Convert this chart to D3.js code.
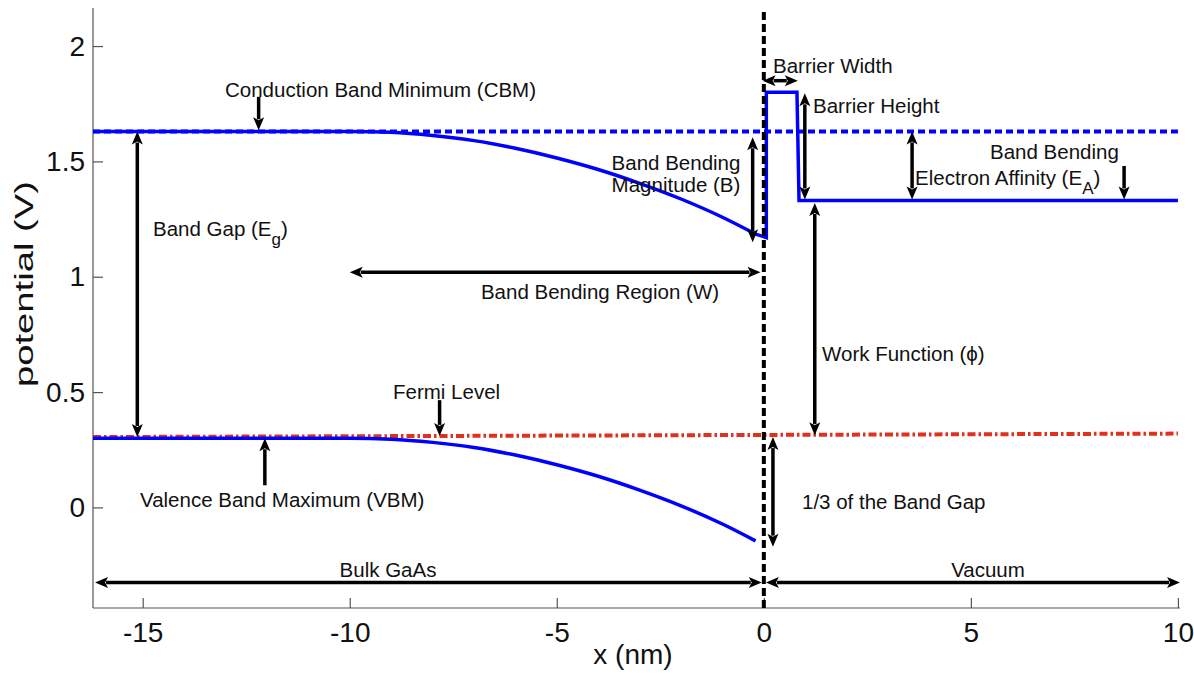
<!DOCTYPE html>
<html>
<head>
<meta charset="utf-8">
<script src="https://cdn.jsdelivr.net/npm/d3@7"></script>
<style>
  html, body { margin: 0; padding: 0; background: #fff; }
  svg { display: block; font-family: "Liberation Sans", Arial, sans-serif; }
</style>
</head>
<body>
<svg id="chart" width="1194" height="676"></svg>
<script>
// Band diagram of a GaAs surface: bulk bands bend toward the surface, then vacuum barrier.
const xTicks = [-15, -10, -5, 0, 5, 10];
const xTickLabels = ["-15", "-10", "-5", "0", "5", "10"];
const yTicks = [0, 0.5, 1, 1.5, 2];
const yTickLabels = ["0", "0.5", "1", "1.5", "2"];

// conduction band minimum (solid, bending near the surface)
const cbmX = [-16.2, -10, -9, -8, -7, -6, -5, -4, -3, -2, -1, -0.2];
const cbmY = [1.63, 1.63, 1.626, 1.612, 1.59, 1.557, 1.515, 1.465, 1.405, 1.337, 1.258, 1.185];
// valence band maximum
const vbmX = [-16.2, -10, -9, -8, -7, -6, -5, -4, -3, -2, -1, -0.2];
const vbmY = [0.30, 0.30, 0.296, 0.282, 0.26, 0.227, 0.185, 0.135, 0.075, 0.007, -0.072, -0.145];
// surface barrier and vacuum level
const barrierX = [-0.2, 0.06, 0.06, 0.8, 0.85, 10];
const barrierY = [1.185, 1.17, 1.80, 1.80, 1.33, 1.33];
// flat-band CBM reference (dashed) and Fermi level (dash-dot)
const cbmRefX = [-16.2, 10];
const cbmRefY = [1.63, 1.63];
const fermiX = [-16.2, 10];
const fermiY = [0.305, 0.32];

// annotation arrows: [x1, y1, x2, y2, heads] ; heads: "end" or "both"
const arrowLines = [
  [-12.2, 1.78, -12.2, 1.635, "end"],      // CBM pointer
  [-15.13, 1.63, -15.13, 0.305, "both"],   // band gap
  [-10.0, 1.02, -0.08, 1.02, "both"],      // band bending region
  [-0.27, 1.605, -0.27, 1.15, "both"],     // band bending magnitude
  [-0.03, 1.85, 0.82, 1.85, "both"],       // barrier width
  [0.99, 1.795, 0.99, 1.335, "both"],      // barrier height
  [3.58, 1.63, 3.58, 1.335, "both"],       // electron affinity
  [8.7, 1.48, 8.7, 1.335, "end"],          // band bending (vacuum side)
  [1.23, 1.32, 1.23, 0.313, "both"],       // work function
  [0.22, 0.305, 0.22, -0.17, "both"],      // 1/3 of band gap
  [-7.83, 0.465, -7.83, 0.31, "end"],      // Fermi level pointer
  [-12.05, 0.096, -12.05, 0.30, "end"],    // VBM pointer
  [-16.15, -0.325, -0.05, -0.325, "both"], // bulk GaAs
  [0.05, -0.325, 10.05, -0.325, "both"]    // vacuum
];

// annotation texts: [x px, baseline px, anchor, main text, subscript, tail]
const labels = [
  [225, 97, "start", "Conduction Band Minimum (CBM)", "", ""],
  [153, 236, "start", "Band Gap (E", "g", ")"],
  [600, 299, "middle", "Band Bending Region (W)", "", ""],
  [676, 170, "middle", "Band Bending", "", ""],
  [676, 192, "middle", "Magnitude (B)", "", ""],
  [773, 73, "start", "Barrier Width", "", ""],
  [813, 113, "start", "Barrier Height", "", ""],
  [915, 185, "start", "Electron Affinity (E", "A", ")"],
  [990, 159, "start", "Band Bending", "", ""],
  [822, 361, "start", "Work Function (\u03d5)", "", ""],
  [802, 509, "start", "1/3 of the Band Gap", "", ""],
  [393, 399, "start", "Fermi Level", "", ""],
  [140, 507, "start", "Valence Band Maximum (VBM)", "", ""],
  [388, 577, "middle", "Bulk GaAs", "", ""],
  [988, 577, "middle", "Vacuum", "", ""]
];

(function draw() {
  const svg = d3.select("#chart");
  const mL = 93, mR = 1180, mT = 8, mB = 608;

  const x = d3.scaleLinear().domain([-16.2, 10.05]).range([mL, mR]);
  const y = d3.scaleLinear().domain([-0.436, 2.165]).range([mB, mT]);

  const line = d3.line().x(d => x(d[0])).y(d => y(d[1]));
  const smooth = d3.line().x(d => x(d[0])).y(d => y(d[1])).curve(d3.curveMonotoneX);
  const zip = (a, b) => a.map((v, i) => [v, b[i]]);

  // axes (inward ticks, no box)
  const axisColor = "#555";
  const xAxis = svg.append("g").attr("transform", `translate(0,${mB})`)
    .call(d3.axisBottom(x).tickValues(xTicks).tickFormat((d, i) => xTickLabels[i])
      .tickSizeInner(-10).tickSizeOuter(0).tickPadding(14));
  const yAxis = svg.append("g").attr("transform", `translate(${mL},0)`)
    .call(d3.axisLeft(y).tickValues(yTicks).tickFormat((d, i) => yTickLabels[i])
      .tickSizeInner(-10).tickSizeOuter(0).tickPadding(8));
  [xAxis, yAxis].forEach(g => {
    g.select(".domain").attr("stroke", axisColor).attr("stroke-width", 1.2);
    g.selectAll(".tick line").attr("stroke", axisColor).attr("stroke-width", 1.2);
    g.selectAll(".tick text").attr("fill", "#111").attr("font-size", 28)
      .attr("font-family", "'Liberation Sans', Arial, sans-serif");
  });
  xAxis.select(".domain").attr("d", `M${mL},0H${mR}`);
  yAxis.select(".domain").attr("d", `M0,${mT}V${mB}`);
  xAxis.selectAll(".tick text").attr("dy", "0.71em");

  svg.append("text")
    .attr("x", 633).attr("y", 664).attr("text-anchor", "middle")
    .attr("font-size", 28).attr("fill", "#111").text("x (nm)");
  svg.append("text")
    .attr("transform", "translate(33,284) rotate(-90)")
    .attr("text-anchor", "middle").attr("font-size", 25).attr("fill", "#111")
    .attr("textLength", 206).attr("lengthAdjust", "spacingAndGlyphs")
    .text("potential (V)");

  const plot = svg.append("g");

  // reference levels
  plot.append("path").datum(zip(cbmRefX, cbmRefY)).attr("d", line)
    .attr("fill", "none").attr("stroke", "#0000ff").attr("stroke-width", 4)
    .attr("stroke-dasharray", "7,4");
  plot.append("path").datum(zip(fermiX, fermiY)).attr("d", line)
    .attr("fill", "none").attr("stroke", "#e0301e").attr("stroke-width", 4)
    .attr("stroke-dasharray", "8,3,2.5,3");

  // band edges and barrier
  [[cbmX, cbmY], [vbmX, vbmY]].forEach(([xs, ys]) => {
    plot.append("path").datum(zip(xs, ys)).attr("d", smooth)
      .attr("fill", "none").attr("stroke", "#0000ff").attr("stroke-width", 3.5);
  });
  plot.append("path").datum(zip(barrierX, barrierY)).attr("d", line)
    .attr("fill", "none").attr("stroke", "#0000ff").attr("stroke-width", 3.5)
    .attr("stroke-linejoin", "miter");

  // surface position
  plot.append("line")
    .attr("x1", x(0)).attr("x2", x(0)).attr("y1", mT + 4).attr("y2", mB)
    .attr("stroke", "#000").attr("stroke-width", 4).attr("stroke-dasharray", "8,4");

  // arrows
  const headLen = 13, headHalf = 5.5;
  const arrows = svg.append("g");
  function head(px, py, ux, uy) {
    // tip at (px,py), pointing along (ux,uy)
    const bx = px - ux * headLen, by = py - uy * headLen;
    const nx = -uy, ny = ux;
    return `M${px},${py}L${bx + nx * headHalf},${by + ny * headHalf}` +
           `L${bx + ux * 3},${by + uy * 3}L${bx - nx * headHalf},${by - ny * headHalf}Z`;
  }
  arrowLines.forEach(([x1, y1, x2, y2, heads]) => {
    const p1 = [x(x1), y(y1)], p2 = [x(x2), y(y2)];
    const dx = p2[0] - p1[0], dy = p2[1] - p1[1];
    const len = Math.hypot(dx, dy), ux = dx / len, uy = dy / len;
    const s = heads === "both" ? headLen - 2 : 0;
    arrows.append("line")
      .attr("x1", p1[0] + ux * s).attr("y1", p1[1] + uy * s)
      .attr("x2", p2[0] - ux * (headLen - 2)).attr("y2", p2[1] - uy * (headLen - 2))
      .attr("stroke", "#000").attr("stroke-width", 3.5);
    arrows.append("path").attr("d", head(p2[0], p2[1], ux, uy)).attr("fill", "#000");
    if (heads === "both") arrows.append("path").attr("d", head(p1[0], p1[1], -ux, -uy)).attr("fill", "#000");
  });

  // annotation text
  const notes = svg.append("g").attr("font-size", 20.5).attr("fill", "#111");
  labels.forEach(([lx, ly, anchor, main, sub, tail]) => {
    const t = notes.append("text").attr("x", lx).attr("y", ly).attr("text-anchor", anchor);
    t.append("tspan").text(main);
    if (sub) {
      t.append("tspan").attr("dy", 9).attr("font-size", 17).text(sub);
      t.append("tspan").attr("dy", -9).text(tail);
    }
  });
})();
</script>
</body>
</html>
